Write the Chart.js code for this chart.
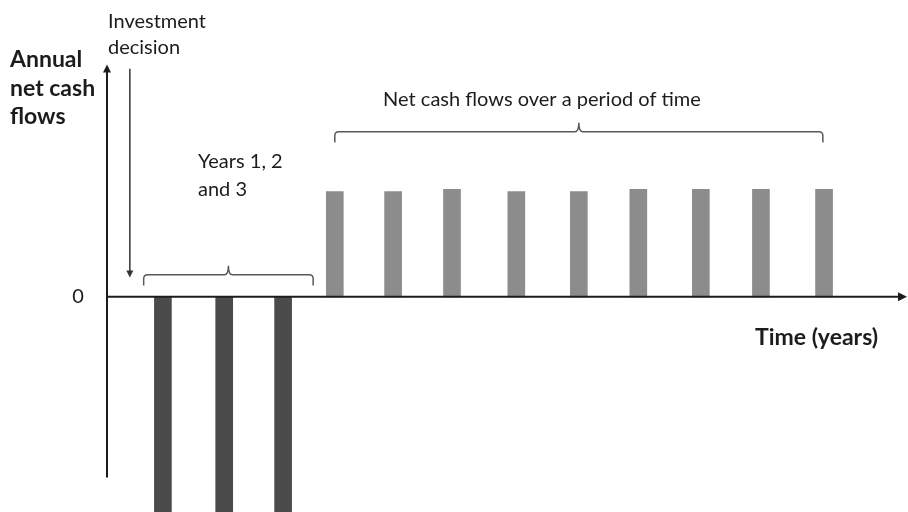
<!DOCTYPE html>
<html>
<head>
<meta charset="utf-8">
<script src="https://cdn.jsdelivr.net/npm/chart.js@4/dist/chart.umd.min.js"></script>
<style>
  html, body { margin: 0; padding: 0; background: #ffffff; }
  #wrap { width: 908px; height: 512px; position: relative; }
</style>
</head>
<body>
<div id="wrap"><canvas id="c" width="908" height="512"></canvas></div>
<script>
// ---- Data ----
const outflowYears  = [1, 2.02, 3];
const outflowValues = [-230, -230, -230];
const inflowYears   = [3.86, 4.83, 5.81, 6.88, 7.92, 8.91, 9.95, 10.95, 12];
const inflowValues  = [98, 98, 100, 98, 98, 100, 100, 100, 100];

// Labels
const yTitleLines = ["Annual", "net cash", "flows"];
const xTitle = "Time (years)";
const zeroLabel = "0";
const decisionLines = ["Investment", "decision"];
const earlyLines = ["Years 1, 2", "and 3"];
const laterLabel = "Net cash flows over a period of time";

// Annotation geometry in data units
const xMin = 0.07, xMax = 13.38, yMin = -200, yMax = 276;
const yAxisTop = 216, yAxisBottom = -168;
const decisionArrow = { x: 0.45, from: 212, to: 18 };
const earlyBrace = { x1: 0.68, x2: 3.5, y: 20.5, drop: 10 };
const laterBrace = { x1: 3.86, x2: 11.98, y: 153.5, drop: 10 };

const inkColor = '#1c1c1c';
const braceColor = '#595959';

function toPts(xs, ys) { return xs.map((x, i) => ({ x: x, y: ys[i] })); }

function arrowHead(ctx, x, y, dir, size) {
  ctx.beginPath();
  if (dir === 'up') { ctx.moveTo(x, y); ctx.lineTo(x - size/2, y + size); ctx.lineTo(x + size/2, y + size); }
  else if (dir === 'down') { ctx.moveTo(x, y); ctx.lineTo(x - size/2, y - size); ctx.lineTo(x + size/2, y - size); }
  else if (dir === 'right') { ctx.moveTo(x, y); ctx.lineTo(x - size, y - size/2); ctx.lineTo(x - size, y + size/2); }
  ctx.closePath();
  ctx.fill();
}

function drawBrace(ctx, xs, ys, b) {
  const x1 = xs.getPixelForValue(b.x1), x2 = xs.getPixelForValue(b.x2);
  const y = ys.getPixelForValue(b.y), yEnd = ys.getPixelForValue(b.y - b.drop);
  const xm = (x1 + x2) / 2, r = 4, tip = 9;
  ctx.beginPath();
  ctx.moveTo(x1, yEnd);
  ctx.lineTo(x1, y + r);
  ctx.quadraticCurveTo(x1, y, x1 + r, y);
  ctx.lineTo(xm - r, y);
  ctx.quadraticCurveTo(xm, y, xm, y - tip);
  ctx.quadraticCurveTo(xm, y, xm + r, y);
  ctx.lineTo(x2 - r, y);
  ctx.quadraticCurveTo(x2, y, x2, y + r);
  ctx.lineTo(x2, yEnd);
  ctx.stroke();
}

const overlay = {
  id: 'overlay',
  afterDatasetsDraw(chart) {
    const ctx = chart.ctx, xs = chart.scales.x, ys = chart.scales.y;
    const ca = chart.chartArea;
    const y0 = ys.getPixelForValue(0);
    const xAxisPx = xs.getPixelForValue(xMin);
    ctx.save();
    // x axis
    ctx.strokeStyle = inkColor; ctx.fillStyle = inkColor; ctx.lineWidth = 2;
    ctx.beginPath(); ctx.moveTo(xAxisPx, y0); ctx.lineTo(ca.right - 6, y0); ctx.stroke();
    arrowHead(ctx, ca.right, y0, 'right', 9);
    // y axis
    const yt = ys.getPixelForValue(yAxisTop), yb = ys.getPixelForValue(yAxisBottom);
    ctx.beginPath(); ctx.moveTo(xAxisPx, yb); ctx.lineTo(xAxisPx, yt + 6); ctx.stroke();
    arrowHead(ctx, xAxisPx, yt, 'up', 8);
    // investment decision arrow
    ctx.lineWidth = 1.5; ctx.strokeStyle = '#333'; ctx.fillStyle = '#333';
    const ax = xs.getPixelForValue(decisionArrow.x);
    const af = ys.getPixelForValue(decisionArrow.from), at = ys.getPixelForValue(decisionArrow.to);
    ctx.beginPath(); ctx.moveTo(ax, af); ctx.lineTo(ax, at - 6); ctx.stroke();
    arrowHead(ctx, ax, at, 'down', 7);
    // braces
    ctx.strokeStyle = braceColor; ctx.lineWidth = 1.5;
    drawBrace(ctx, xs, ys, earlyBrace);
    drawBrace(ctx, xs, ys, laterBrace);

    // texts
    ctx.fillStyle = inkColor;
    ctx.textBaseline = 'middle';
    ctx.textAlign = 'left';
    ctx.font = 'bold 23px Lato, "Open Sans", sans-serif';
    yTitleLines.forEach((t, i) => ctx.fillText(t, 10, 60 + i * 28.5));
    ctx.fillText(xTitle, 755, 338);
    ctx.font = '20px Lato, "Open Sans", sans-serif';
    ctx.textAlign = 'center';
    ctx.fillText(zeroLabel, 78, y0);
    ctx.textAlign = 'left';
    decisionLines.forEach((t, i) => ctx.fillText(t, 108, 22 + i * 26));
    earlyLines.forEach((t, i) => ctx.fillText(t, 198, 162 + i * 28));
    ctx.textAlign = 'center';
    ctx.fillText(laterLabel, 542, 100);
    ctx.restore();
  }
};

new Chart(document.getElementById('c'), {
  type: 'bar',
  data: {
    datasets: [
      { label: 'Outflows', data: toPts(outflowYears, outflowValues), backgroundColor: '#4b4b4b', barThickness: 17, grouped: false },
      { label: 'Inflows', data: toPts(inflowYears, inflowValues), backgroundColor: '#8c8c8c', barThickness: 17, grouped: false }
    ]
  },
  options: {
    responsive: false,
    animation: false,
    layout: { padding: { left: 107, right: 1, top: 0, bottom: 0 } },
    plugins: { legend: { display: false }, tooltip: { enabled: false } },
    scales: {
      x: { type: 'linear', min: xMin, max: xMax, offset: false, display: false },
      y: { min: yMin, max: yMax, display: false }
    }
  },
  plugins: [overlay]
});
</script>
</body>
</html>
